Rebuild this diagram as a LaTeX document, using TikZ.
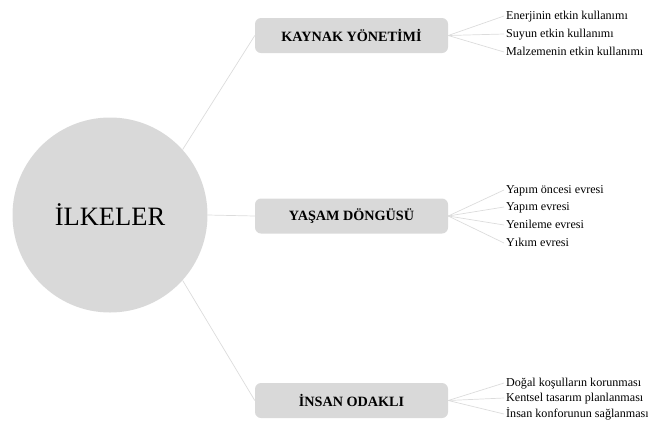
\documentclass[tikz,border=0pt]{standalone}
\usepackage{fontspec}
\setmainfont{Liberation Serif}
\definecolor{boxgray}{HTML}{D9D9D9}
\definecolor{linegray}{HTML}{DCDCDC}
\begin{document}
\begin{tikzpicture}[x=1pt,y=-1pt,
  hub/.style={circle,fill=boxgray,minimum size=195pt,inner sep=0pt,font=\fontsize{26.5}{30}\selectfont},
  branch/.style={rectangle,rounded corners=6pt,fill=boxgray,minimum width=193pt,minimum height=35pt,inner sep=0pt,font=\bfseries\fontsize{14.2}{16}\selectfont},
  leaf/.style={anchor=west,inner sep=2pt,text height=8.5pt,text depth=2.5pt,font=\fontsize{12.1}{14}\selectfont},
  link/.style={draw=linegray,line width=0.7pt}]
\useasboundingbox (0,0) rectangle (648,421);
\node[hub] (c) at (110,215) {İLKELER};
\node[branch] (k) at (351.5,35.5) {KAYNAK YÖNETİMİ};
\node[branch] (y) at (351.5,216) {YAŞAM DÖNGÜSÜ};
\node[branch] (i) at (351.5,400.5) {İNSAN ODAKLI};
\draw[link] (c.42) -- (k.west);
\draw[link] (c.east) -- (y.west);
\draw[link] (c.-42) -- (i.west);
\node[leaf] (k1) at (504,16) {Enerjinin etkin kullanımı};
\node[leaf] (k2) at (504,34) {Suyun etkin kullanımı};
\node[leaf] (k3) at (504,52) {Malzemenin etkin kullanımı};
\node[leaf] (y1) at (504,190) {Yapım öncesi evresi};
\node[leaf] (y2) at (504,207) {Yapım evresi};
\node[leaf] (y3) at (504,225) {Yenileme evresi};
\node[leaf] (y4) at (504,243) {Yıkım evresi};
\node[leaf] (i1) at (504,383) {Doğal koşulların korunması};
\node[leaf] (i2) at (504,398) {Kentsel tasarım planlanması};
\node[leaf] (i3) at (504,414) {İnsan konforunun sağlanması};
\foreach \n in {k1,k2,k3} \draw[link] (k.east) -- (\n.west);
\foreach \n in {y1,y2,y3,y4} \draw[link] (y.east) -- (\n.west);
\foreach \n in {i1,i2,i3} \draw[link] (i.east) -- (\n.west);
\end{tikzpicture}
\end{document}
